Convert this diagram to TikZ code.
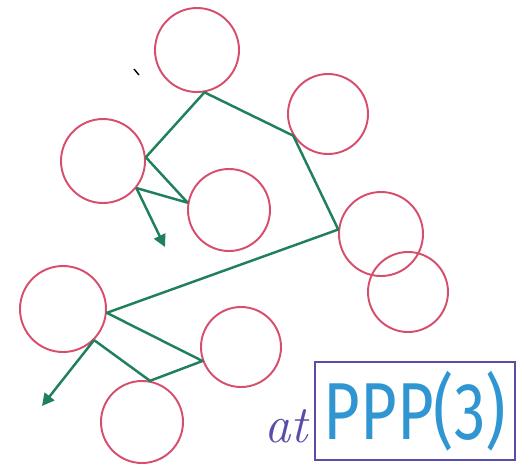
\documentclass[tikz,border=0pt]{standalone}
\usepackage{fontspec}
\usepackage{tikz}
\usetikzlibrary{arrows.meta, positioning}
\newfontfamily\handfont{Fira Sans}
\definecolor{myred}{RGB}{214,78,108}
\definecolor{mygreen}{RGB}{32,128,92}
\definecolor{myblue}{RGB}{48,150,210}
\definecolor{mypurple}{RGB}{88,78,170}
\tikzset{
  ball/.style={circle, draw=myred, line width=1.1pt, inner sep=0pt},
  link/.style={draw=mygreen, line width=1.4pt, line join=round},
  tip/.style={-{Triangle[length=7pt, width=7pt]}}
}
\begin{document}
\begin{tikzpicture}
    \useasboundingbox (0,0) rectangle (10.38,-9.4);

    % Circles
    \node[ball, minimum size=1.68cm] (c1) at (3.94,-1.00) {};
    \node[ball, minimum size=1.60cm] (c2) at (6.56,-2.28) {};
    \node[ball, minimum size=1.68cm] (c3) at (2.06,-3.22) {};
    \node[ball, minimum size=1.64cm] (c4) at (4.58,-4.20) {};
    \node[ball, minimum size=1.68cm] (c5) at (7.62,-4.68) {};
    \node[ball, minimum size=1.60cm] (c6) at (8.16,-5.84) {};
    \node[ball, minimum size=1.72cm] (c7) at (1.26,-6.18) {};
    \node[ball, minimum size=1.60cm] (c8) at (4.82,-6.94) {};
    \node[ball, minimum size=1.64cm] (c9) at (2.84,-8.44) {};

    % Loose ends
    \coordinate (e1) at (3.30,-4.94);
    \coordinate (e2) at (0.84,-8.12);
    \draw[black, line width=0.8pt] (2.68,-1.38) -- (2.78,-1.50);

    % Path
    \draw[link] (c3.5) -- (c1.-80) -- (c2.212) -- (c5.174) -- (c7.-5)
        -- (c8.200) -- (c9.79) -- (c7.-45);
    \draw[link, tip] (c7.-45) -- (e2);
    \draw[link] (c3.5) -- (c4.170) -- (c3.-39);
    \draw[link, tip] (c3.-39) -- (e1);

    % Label
    \node[draw=mypurple, line width=1.1pt, minimum width=4.0cm, minimum height=1.96cm,
      text=myblue, font=\handfont\fontsize{46}{46}\selectfont] (lbl) at (8.30,-8.22)
      {\scalebox{0.78}[1]{PPP(3)}};
    \node[text=mypurple, font=\itshape\fontsize{30}{30}\selectfont, left=0pt of lbl.west,
      yshift=-0.3cm] (at) {at};
\end{tikzpicture}
\end{document}
